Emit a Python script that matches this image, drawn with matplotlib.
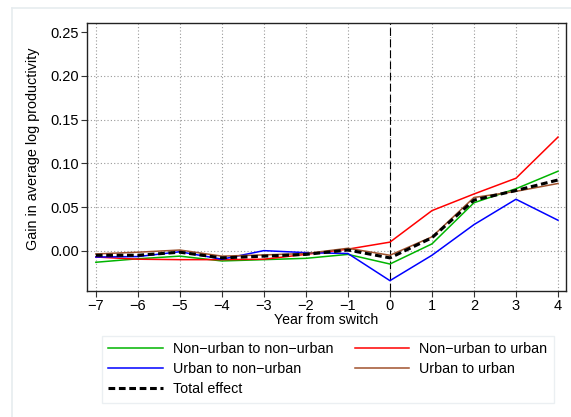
import matplotlib.pyplot as plt
import numpy as np
from matplotlib.lines import Line2D

plt.rcParams['font.family'] = ['Liberation Sans', 'DejaVu Sans']
plt.rcParams['axes.unicode_minus'] = True

years = np.arange(-7, 5)
nonurban_nonurban = [-0.013, -0.009, -0.006, -0.0115, -0.010, -0.0085, -0.004, -0.015, 0.008, 0.055, 0.071, 0.091]
nonurban_urban = [-0.007, -0.0095, -0.010, -0.010, -0.0095, -0.004, 0.002, 0.010, 0.046, 0.065, 0.083, 0.130]
urban_nonurban = [-0.007, -0.0065, -0.001, -0.0095, 0.0003, -0.002, -0.003, -0.034, -0.005, 0.030, 0.059, 0.035]
urban_urban = [-0.0035, -0.0015, 0.001, -0.006, -0.0046, -0.003, 0.003, -0.005, 0.016, 0.061, 0.068, 0.077]
total = [-0.005, -0.005, -0.0015, -0.008, -0.006, -0.004, 0.001, -0.008, 0.015, 0.058, 0.069, 0.081]
yticks = [0.00, 0.05, 0.10, 0.15, 0.20, 0.25]

fig = plt.figure(figsize=(5.71, 4.17), dpi=100)
ax = fig.add_axes([0.1524, 0.3022, 0.8388, 0.6426])

# light border of the graph region
fig.add_artist(Line2D([12/571, 12/571], [0, 1 - 8/417], color='#e6ecef', lw=1.2))
fig.add_artist(Line2D([12/571, 1], [1 - 8/417, 1 - 8/417], color='#e6ecef', lw=1.2))

# grid
for x in years:
    ax.axvline(x, color='#999999', ls=(0, (1, 2)), lw=0.8, zorder=0)
for y in yticks[:-1]:
    ax.axhline(y, color='#999999', ls=(0, (1, 2)), lw=0.8, zorder=0)

ax.axvline(0, color='black', ls=(0, (7, 3)), lw=0.8, zorder=1)

ax.plot(years, nonurban_nonurban, color='#00b400', lw=1.1, label='Non\u2212urban to non\u2212urban', zorder=2)
ax.plot(years, nonurban_urban, color='#ff0000', lw=1.1, label='Non\u2212urban to urban', zorder=2)
ax.plot(years, urban_nonurban, color='#0000ff', lw=1.1, label='Urban to non\u2212urban', zorder=2)
ax.plot(years, urban_urban, color='#a0522d', lw=1.1, label='Urban to urban', zorder=2)
ax.plot(years, total, color='black', lw=2.2, ls=(0, (2.2, 1.2)), label='Total effect', zorder=3)

ax.set_xlim(-7.21, 4.19)
ax.set_ylim(-0.0458, 0.2603)
ax.set_xticks(years)
ax.set_xticklabels([str(x).replace('-', '\u2212') for x in years])
ax.set_yticks(yticks)
ax.set_yticklabels(['%.2f' % y for y in yticks])
ax.tick_params(labelsize=10.5, length=4, width=0.8, color='#333333', pad=2)
for s in ax.spines.values():
    s.set_linewidth(1.0)
    s.set_color('#222222')

ax.set_xlabel('Year from switch', fontsize=10.2, labelpad=0)
ax.set_ylabel('Gain in average log productivity', fontsize=10.4)
ax.yaxis.set_label_coords(-0.098, 0.53)

# row-wise legend: matplotlib fills columns first
h, l = ax.get_legend_handles_labels()
order = [0, 2, 4, 1, 3]
leg = fig.legend([h[i] for i in order], [l[i] for i in order], ncol=2,
                 loc='upper left', bbox_to_anchor=(102/571, 1 - 336/417),
                 fontsize=10.3, handlelength=3.8, frameon=True, fancybox=False,
                 edgecolor='#e6ecef', borderaxespad=0, labelspacing=0.42, handletextpad=0.7,
                 borderpad=0.45, columnspacing=1.5)
leg.get_frame().set_linewidth(1.0)

fig.savefig('out.png', dpi=100)
